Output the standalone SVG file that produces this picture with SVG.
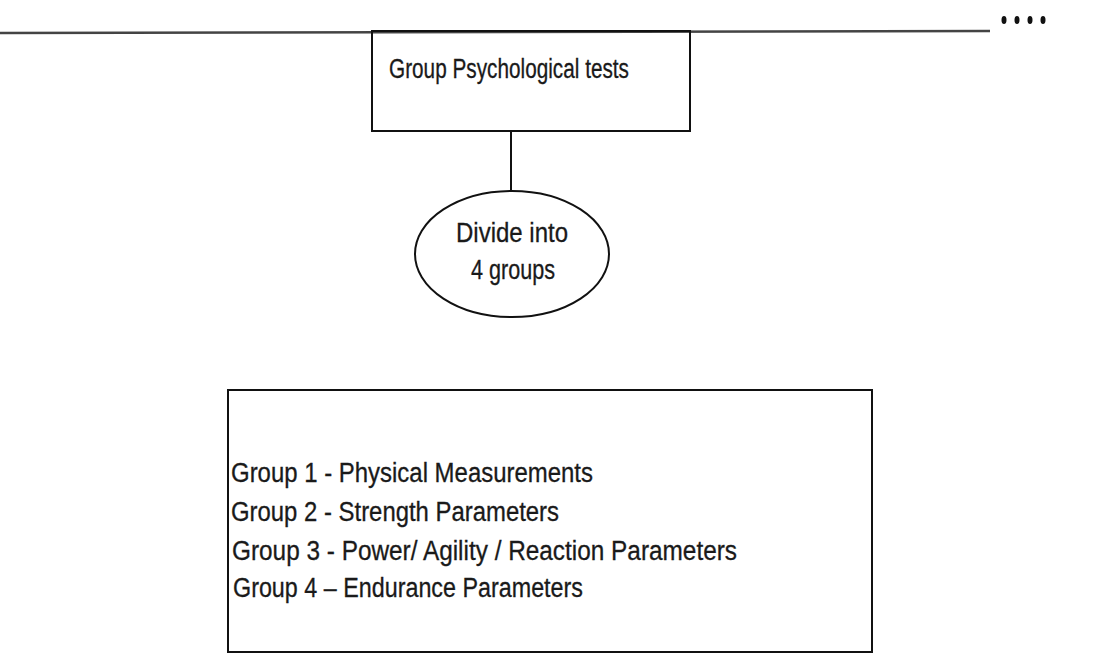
<svg xmlns="http://www.w3.org/2000/svg" width="1104" height="653" viewBox="0 0 1104 653">
<style>
.t{font-family:"Liberation Sans",sans-serif;font-size:27px;fill:#1a1a1a;stroke:#1a1a1a;stroke-width:0.3}
.s{fill:none;stroke:#111;stroke-width:2}
</style>
<rect width="1104" height="653" fill="#fff"/>
<line x1="0" y1="33" x2="990" y2="31" stroke="#444" stroke-width="2.5"/>
<g fill="#111"><ellipse cx="1004" cy="20" rx="2.5" ry="4"/><ellipse cx="1017" cy="20" rx="2.5" ry="4"/><ellipse cx="1030" cy="20" rx="2.5" ry="4"/><ellipse cx="1043" cy="20" rx="2.5" ry="4"/></g>
<g id="connectors"><line class="s" x1="511" y1="131" x2="511" y2="190"/></g>
<g id="n1"><rect class="s" x="372" y="31" width="318" height="100"/><text class="t" x="389" y="78" textLength="240" lengthAdjust="spacingAndGlyphs">Group Psychological tests</text></g>
<g id="n2"><ellipse class="s" cx="512" cy="254" rx="97" ry="63"/><text class="t" x="456" y="242" textLength="112" lengthAdjust="spacingAndGlyphs">Divide into</text><text class="t" x="471" y="279" textLength="84" lengthAdjust="spacingAndGlyphs">4 groups</text></g>
<g id="n3"><rect class="s" x="228" y="390" width="644" height="262"/>
<text class="t" x="231" y="482" textLength="362" lengthAdjust="spacingAndGlyphs">Group 1  - Physical Measurements</text>
<text class="t" x="231" y="521" textLength="328" lengthAdjust="spacingAndGlyphs">Group 2 -  Strength Parameters</text>
<text class="t" x="232" y="560" textLength="505" lengthAdjust="spacingAndGlyphs">Group 3 -  Power/ Agility / Reaction Parameters</text>
<text class="t" x="233" y="597" textLength="350" lengthAdjust="spacingAndGlyphs">Group 4 – Endurance Parameters</text></g>
</svg>
